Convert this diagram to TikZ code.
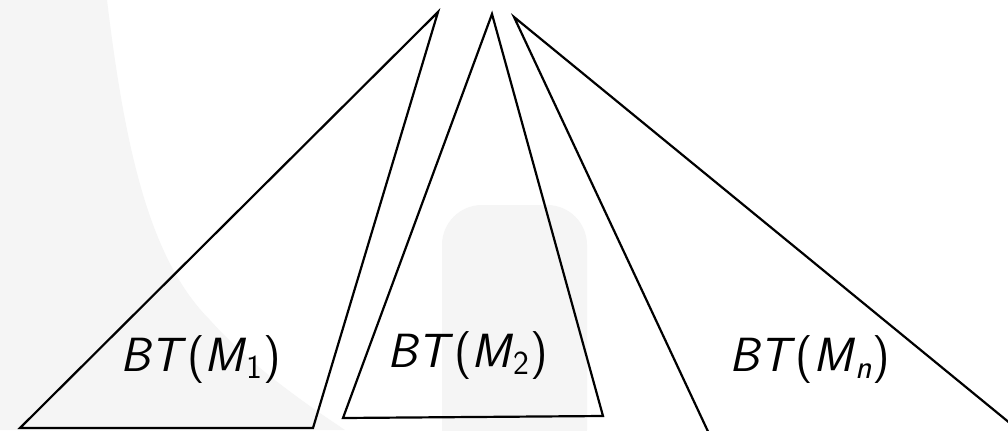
\documentclass[tikz,border=0pt]{standalone}
\begin{document}
\begin{tikzpicture}[x=0.5pt,y=-0.5pt,
  tri/.style={draw=black,line width=1.1pt,line join=miter},
  lbl/.style={anchor=base,inner sep=0pt,font=\fontsize{24}{28}\selectfont\sffamily},
  bgshape/.style={fill=bgray,draw=none}]
\definecolor{bgray}{HTML}{F5F5F5}
\useasboundingbox (0,0) rectangle (1008,430);
\clip (0,0) rectangle (1008,430);
\fill[white] (0,0) rectangle (1008,430);
% faint background shapes
\fill[bgshape] (0,0) -- (107,0) .. controls (125,150) and (150,260) .. (210,320) .. controls (250,365) and (300,400) .. (345,430) -- (0,430) -- cycle;
\fill[bgshape,rounded corners=20pt] (442,205) rectangle (587,470);
% apexes and corners
\coordinate (a1) at (438,12);
\coordinate (l1) at (20,428);
\coordinate (r1) at (313,428);
\coordinate (a2) at (492,14);
\coordinate (l2) at (343,418);
\coordinate (r2) at (603,416);
\coordinate (a3) at (514,17);
\coordinate (l3) at (712,440);
\coordinate (r3) at (1022,433);
\draw[tri] (a1) -- (l1) -- (r1) -- cycle;
\draw[tri] (a2) -- (l2) -- (r2) -- cycle;
\draw[tri] (l3) -- (a3) -- (r3);
\node[lbl] (t1) at (201,371) {\textit{BT}(\textit{M}\textsubscript{1})};
\node[lbl] (t2) at (468,367) {\textit{BT}(\textit{M}\textsubscript{2})};
\node[lbl] (tn) at (810,371) {\textit{BT}(\textit{M}\textsubscript{\textit{n}})};
\end{tikzpicture}
\end{document}
